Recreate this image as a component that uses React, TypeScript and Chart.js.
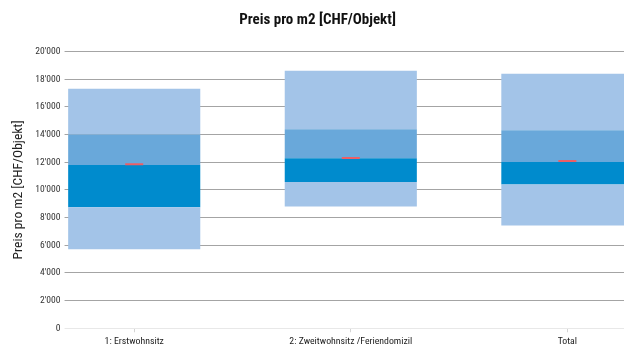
import React, { useEffect, useRef } from "react";
import { Chart, registerables } from "chart.js";

Chart.register(...registerables);

const categories = ["1: Erstwohnsitz", "2: Zweitwohnsitz /Feriendomizil", "Total"];
const minValues = [5700, 8800, 7420];
const q1Values = [8750, 10570, 10380];
const medianValues = [11800, 12290, 12020];
const q3Values = [14000, 14390, 14300];
const maxValues = [17300, 18600, 18400];
const meanValues = [11850, 12310, 12090];
const yTicks = [0, 2000, 4000, 6000, 8000, 10000, 12000, 14000, 16000, 18000, 20000];

const FONT = "'Roboto Condensed', 'DejaVu Sans Condensed', sans-serif";

const LIGHT = "#a3c4e8";
const MEDIUM = "#69a8da";
const DARK = "#008bcd";
const RED = "#ec5f66";

// visible x range (in category units) so the first group sits a bit right of the axis
const X_MIN = -0.3078;
const X_MAX = 2.2615;

const fmt = (v: number) => String(v).replace(/\B(?=(\d{3})+(?!\d))/g, "'");

function band(lo: number[], hi: number[]) {
  return categories.map((_, i) => ({ x: i, y: [lo[i], hi[i]] }));
}

export default function App() {
  const ref = useRef<HTMLCanvasElement | null>(null);

  useEffect(() => {
    if (!ref.current) return;
    const barOpts = { barPercentage: 0.61, categoryPercentage: 1, borderWidth: 0, grouped: false, order: 1 };
    const chart = new Chart(ref.current, {
      type: "bar",
      data: {
        datasets: [
          { label: "min", data: band(minValues, q1Values) as any, backgroundColor: LIGHT, ...barOpts },
          { label: "q1", data: band(q1Values, medianValues) as any, backgroundColor: DARK, ...barOpts },
          { label: "median", data: band(medianValues, q3Values) as any, backgroundColor: MEDIUM, ...barOpts },
          { label: "q3", data: band(q3Values, maxValues) as any, backgroundColor: LIGHT, ...barOpts },
          {
            type: "line" as any,
            label: "Mittelwert",
            order: 0,
            data: categories.map((_, i) => ({ x: i, y: meanValues[i] })) as any,
            showLine: false,
            pointStyle: "line",
            pointRadius: 9,
            borderColor: RED,
            borderWidth: 2,
            backgroundColor: RED,
          } as any,
        ],
      },
      options: {
        animation: false,
        responsive: false,
        maintainAspectRatio: false,
        layout: { autoPadding: false, padding: { top: 11, right: 0, bottom: -5, left: 11 } },
        plugins: {
          legend: { display: false },
          tooltip: { enabled: false },
          title: {
            display: true,
            text: "Preis pro m2 [CHF/Objekt]",
            color: "#111",
            font: { family: FONT, size: 15, weight: "bold" },
            padding: { top: 0, bottom: 22.5 },
          },
        },
        scales: {
          x: {
            type: "linear",
            offset: false,
            min: X_MIN,
            max: X_MAX,
            afterBuildTicks: (axis: any) => {
              axis.ticks = categories.map((_, i) => ({ value: i }));
            },
            afterFit: (axis: any) => {
              axis.paddingLeft = 0;
              axis.paddingRight = 0;
            },
            ticks: {
              callback: (v: any) => categories[Number(v)] ?? "",
              color: "#222",
              font: { family: FONT, size: 9.8 },
              padding: 3,
              maxRotation: 0,
              autoSkip: false,
            },
            grid: { offset: false, drawOnChartArea: false, drawTicks: true, tickLength: 4, color: "#d4d4d4" },
            border: { display: false },
          },
          y: {
            min: 0,
            max: 20000,
            afterBuildTicks: (axis: any) => {
              axis.ticks = yTicks.map((v) => ({ value: v }));
            },
            ticks: {
              callback: (v: any) => fmt(Number(v)),
              color: "#333",
              font: { family: FONT, size: 9.6 },
              padding: 4,
            },
            grid: {
              color: (c: any) => (c.tick && c.tick.value === 0 ? "#e8e8e8" : "#a4a4a4"),
              lineWidth: 1,
              tickLength: 3,
            },
            border: { display: false },
            title: {
              display: true,
              text: "Preis pro m2 [CHF/Objekt]",
              color: "#222",
              font: { family: FONT, size: 13.5 },
              padding: { top: 0, bottom: 4 },
            },
          },
        },
      },
    });
    return () => chart.destroy();
  }, []);

  return (
    <div style={{ position: "absolute", left: 0, top: 0, width: 624, height: 345, background: "#fff" }}>
      <canvas ref={ref} width={624} height={345} style={{ display: "block" }} />
    </div>
  );
}
